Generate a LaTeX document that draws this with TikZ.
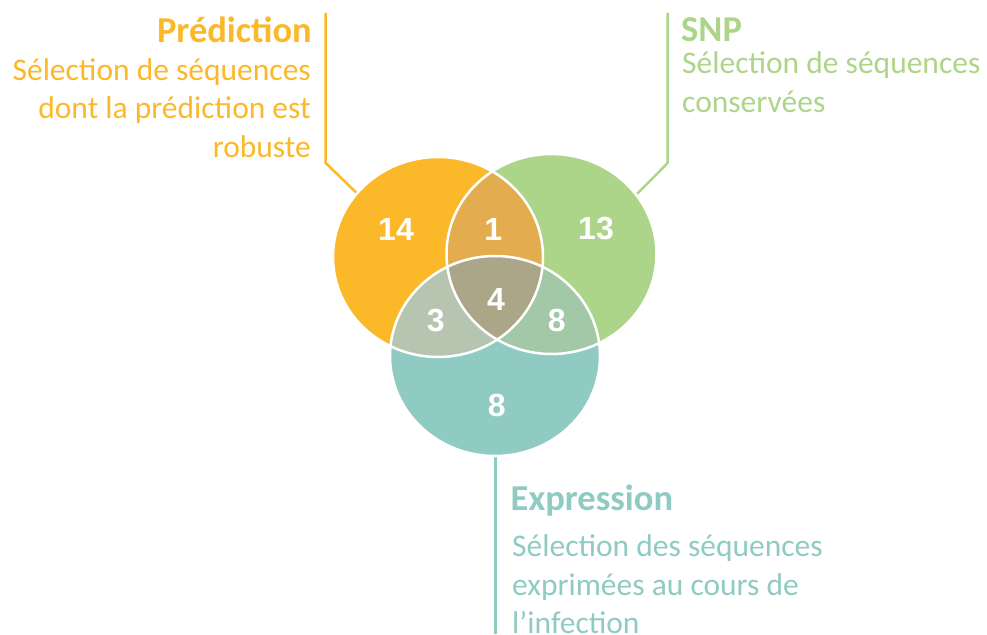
\documentclass[tikz,border=0pt]{standalone}
\usepackage{fontspec}
\setmainfont{Carlito}
\newfontfamily\numfont{Liberation Sans}
\definecolor{cO}{HTML}{FBB829}
\definecolor{cG}{HTML}{ADD58A}
\definecolor{cT}{HTML}{8FCBC3}
\definecolor{cOG}{HTML}{E3AC4F}
\definecolor{cOT}{HTML}{B5C5B0}
\definecolor{cGT}{HTML}{A2C8A8}
\definecolor{cOGT}{HTML}{ABA688}
\tikzset{
  ell/.style={x radius=105pt, y radius=100pt},
  conn/.style={line width=2.5pt, line cap=butt, line join=miter},
  ttl/.style={inner sep=0pt, font=\fontsize{36.5}{44}\selectfont\bfseries},
  body/.style={inner sep=0pt, font=\fontsize{31.5}{38.5}\selectfont},
  num/.style={inner sep=0pt, text=white, font=\fontsize{32}{38}\selectfont\numfont\bfseries}
}
\begin{document}
\begin{tikzpicture}[x=1pt,y=-1pt]
\useasboundingbox (0,0) rectangle (987,634);
% centres
\coordinate (O) at (438,257);
\coordinate (G) at (551.5,254);
\coordinate (T) at (495,356);
% connector points
\coordinate (Otop) at (325.7,13);
\coordinate (Obend) at (325.7,163);
\coordinate (Oend) at (368,204);
\coordinate (Gtop) at (667.7,13);
\coordinate (Gbend) at (667.7,163);
\coordinate (Gend) at (626,205);
\coordinate (Tstart) at (495.7,440);
\coordinate (Tbot) at (495.7,634);
\draw[conn, cO] (Otop) -- (Obend) -- (Oend);
\draw[conn, cG] (Gtop) -- (Gbend) -- (Gend);
\draw[conn, cT] (Tstart) -- (Tbot);
% circles
\fill[cO] (O) ellipse [ell];
\fill[cG] (G) ellipse [ell];
\fill[cT] (T) ellipse [ell];
\begin{scope}
  \clip (O) ellipse [ell];
  \fill[cOG] (G) ellipse [ell];
  \fill[cOT] (T) ellipse [ell];
\end{scope}
\begin{scope}
  \clip (G) ellipse [ell];
  \fill[cGT] (T) ellipse [ell];
\end{scope}
\begin{scope}
  \clip (O) ellipse [ell];
  \clip (G) ellipse [ell];
  \fill[cOGT] (T) ellipse [ell];
\end{scope}
\draw[white, line width=2.5pt] (O) ellipse [ell];
\draw[white, line width=2.5pt] (G) ellipse [ell];
\draw[white, line width=2.5pt] (T) ellipse [ell];
% numbers
\node[num] (n14) at (396,229) {14};
\node[num] (n1) at (493.3,229) {1};
\node[num] (n13) at (596,229) {13};
\node[num] (n3) at (435.7,320.7) {3};
\node[num] (n4) at (496,299) {4};
\node[num] (n8a) at (556.7,320.7) {8};
\node[num] (n8b) at (496.7,405) {8};
% Prediction label
\node[ttl, text=cO, anchor=base east] (pt) at (312,42) {Prédiction};
\node[body, text=cO, anchor=base east] (p1) at (311,80) {Sélection de séquences};
\node[body, text=cO, anchor=base east] (p2) at (311,118.5) {dont la prédiction est};
\node[body, text=cO, anchor=base east] (p3) at (311,157) {robuste};
% SNP label
\node[ttl, text=cG, anchor=base west] (st) at (681,41.7) {SNP};
\node[body, text=cG, anchor=base west] (s1) at (682,74) {Sélection de séquences};
\node[body, text=cG, anchor=base west] (s2) at (682,112) {conservées};
% Expression label
\node[ttl, text=cT, anchor=base west] (et) at (510.5,510) {Expression};
\node[body, text=cT, anchor=base west] (e1) at (512,556.7) {Sélection des séquences};
\node[body, text=cT, anchor=base west] (e2) at (512,595) {exprimées au cours de};
\node[body, text=cT, anchor=base west] (e3) at (512,633) {l’infection};
\end{tikzpicture}
\end{document}
